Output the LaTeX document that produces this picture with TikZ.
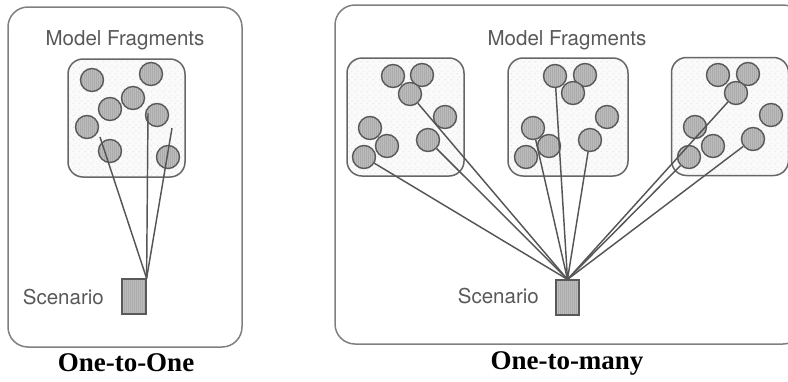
\documentclass[tikz,border=0pt]{standalone}
\usepackage{fontspec}
\setmainfont{Liberation Serif}
\newfontfamily\labelfont{TeX Gyre Heros}
\usetikzlibrary{patterns.meta}

\definecolor{panelrim}{HTML}{808080}
\definecolor{poolrim}{HTML}{666666}
\definecolor{poolbg}{HTML}{FAFAFA}
\definecolor{dotc}{HTML}{C2C2C2}
\definecolor{fragrim}{HTML}{595959}
\definecolor{fragbg}{HTML}{BCBCBC}
\definecolor{hatch}{HTML}{ABABAB}
\definecolor{linkc}{HTML}{555555}
\definecolor{labelc}{HTML}{595959}

% light stipple used inside the fragment pools
\tikzdeclarepattern{
  name=stipple,
  type=uncolored,
  bounding box={(0pt,0pt) and (6pt,6pt)},
  tile size={(6pt,6pt)},
  code={\fill (1.5pt,1.5pt) circle (0.45pt);
        \fill (4.5pt,4.5pt) circle (0.45pt);}
}

\tikzset{
  panel/.style={draw=panelrim, line width=1.5pt, rounded corners=20pt,
    rectangle, inner sep=0pt},
  pool/.style={rectangle, draw=poolrim, line width=1.5pt, rounded corners=15pt,
    minimum width=117pt, minimum height=118pt, inner sep=0pt,
    preaction={fill=poolbg}, pattern=stipple, pattern color=dotc},
  frag/.style={circle, draw=fragrim, line width=1.4pt, minimum size=23pt,
    inner sep=0pt, preaction={fill=fragbg},
    pattern={Lines[angle=90,distance=2pt,line width=0.4pt]},
    pattern color=hatch},
  scen/.style={rectangle, draw=fragrim, line width=1.2pt, inner sep=0pt,
    minimum width=24pt, minimum height=35pt, preaction={fill=fragbg},
    pattern={Lines[angle=90,distance=2pt,line width=0.4pt]},
    pattern color=hatch},
  link/.style={draw=linkc, line width=1.45pt},
  lbl/.style={text=labelc, font=\labelfont\fontsize{20.5}{22}\selectfont,
    inner sep=0pt},
  caption/.style={font=\bfseries\fontsize{27}{30}\selectfont, inner sep=0pt}
}

\begin{document}
\begin{tikzpicture}[x=1pt,y=-1pt]
\useasboundingbox (0,0) rectangle (788,381);
\clip (0,0) rectangle (788,381);
\fill[white] (0,0) rectangle (788,381);

% ---- one-to-one ----
\node[panel, minimum width=234pt, minimum height=340pt] (pan1) at (125,177) {};
\node[lbl] (mf1) at (125,40) {Model Fragments};
\node[pool] (pool1) at (126.5,118) {};

\foreach \n/\p in {1/{(92,80)},2/{(151,74)},3/{(133,98)},4/{(110,109)},
                   5/{(157,115)},6/{(87,127)},7/{(110,151)},8/{(168,157)}}
  \node[frag] (a\n) at \p {};

\node[scen] (sc1) at (134,296.5) {};
\node[lbl, anchor=east] (st1) at (104,297) {Scenario};

\coordinate (e1) at (100,137);
\coordinate (e2) at (148,113);
\coordinate (e3) at (172,128);
\foreach \t in {e1,e2,e3}
  \draw[link] (sc1.north east) -- (\t);

% ---- one-to-many ----
\node[panel, minimum width=468pt, minimum height=339pt] (pan2) at (569,174.5) {};
\node[lbl] (mf2) at (567,40) {Model Fragments};
\node[pool] (pool2) at (405.5,117) {};
\node[pool, minimum width=120pt] (pool3) at (568,117) {};
\node[pool] (pool4) at (730,116.5) {};

\foreach \n/\p in {1/{(393,76)},2/{(422,75)},3/{(410,94)},4/{(445,117)},
                   5/{(370,128)},6/{(387,146)},7/{(428,140)},8/{(364,157)}}
  \node[frag] (b\n) at \p {};
\foreach \n/\p in {1/{(555,76)},2/{(585,75)},3/{(573,93)},4/{(607,117)},
                   5/{(533,128)},6/{(549,146)},7/{(590,140)},8/{(526,157)}}
  \node[frag] (c\n) at \p {};
\foreach \n/\p in {1/{(718,75)},2/{(748,74)},3/{(736,93)},4/{(771,115)},
                   5/{(695,127)},6/{(713,146)},7/{(753,139)},8/{(689,157)}}
  \node[frag] (d\n) at \p {};

\node[scen, minimum width=23pt] (sc2) at (567.5,297.5) {};
\node[lbl, anchor=east] (st2) at (539,296) {Scenario};

\foreach \t in {b3,b7,b8,c1,c5,c7,d3,d7,d8}
  \draw[link] (sc2.north) -- (\t);

% ---- captions ----
\node[caption] (cap1) at (126,363) {One-to-One};
\node[caption] (cap2) at (567,363) {One-to-many};
\end{tikzpicture}
\end{document}
